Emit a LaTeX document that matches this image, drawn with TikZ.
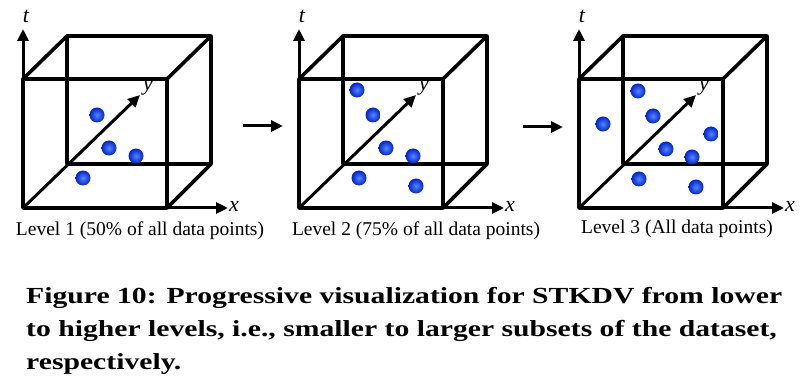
\documentclass[tikz,border=0pt]{standalone}
\usepackage{fontspec}
\setmainfont{Liberation Serif}
\newfontfamily\capfont[FakeStretch=1.29]{Liberation Serif}
\usetikzlibrary{arrows.meta}
\definecolor{dotin}{RGB}{80,135,255}
\definecolor{dotout}{RGB}{5,35,200}
\tikzset{
  edge/.style={line width=3.6pt, line cap=round, line join=round},
  axis/.style={line width=3pt, -{Triangle[length=12pt,width=11pt]}},
  flow/.style={line width=3pt, -{Triangle[length=12pt,width=11pt]}},
  axlabel/.style={font=\fontsize{22}{22}\selectfont\itshape, inner sep=0pt},
  levlabel/.style={font=\fontsize{19.5}{19.5}\selectfont, inner sep=0pt, anchor=base},
  caption/.style={font=\capfont\fontsize{23}{23}\selectfont\bfseries, inner sep=0pt, anchor=base west},
}
\newcommand{\dotball}[2]{\shade[inner color=dotin, outer color=dotout] (#1,#2) circle (7.5);}
\newcommand{\cubepanel}[2]{%
 \begin{scope}[shift={(#1,0)}]
  \coordinate (#2fbl) at (0,208); \coordinate (#2fbr) at (144,208);
  \coordinate (#2ftl) at (0,79);  \coordinate (#2ftr) at (144,79);
  \coordinate (#2bbl) at (44,164); \coordinate (#2bbr) at (188,164);
  \coordinate (#2btl) at (44,36);  \coordinate (#2btr) at (188,36);
  \coordinate (#2ttip) at (0,29);
  \coordinate (#2ytip) at (117,95);
  \coordinate (#2xtip) at (205,208);
  \draw[edge] (#2btl) -- (#2btr) -- (#2bbr) -- (#2bbl) -- cycle;
  \draw[edge] (#2fbl) -- (#2fbr) -- (#2ftr) -- (#2ftl) -- cycle;
  \draw[edge] (#2ftl) -- (#2btl) (#2ftr) -- (#2btr) (#2fbr) -- (#2bbr);
  \draw[axis] (#2fbl) -- (#2ttip);
  \draw[axis] (#2fbl) -- (#2ytip);
  \draw[axis] (#2fbr) -- (#2xtip);
  \node[axlabel] (#2t) at (3,16) {t};
  \node[axlabel] (#2y) at (125,88) {y};
  \node[axlabel] (#2x) at (211,206) {x};
 \end{scope}}
\begin{document}
\begin{tikzpicture}[x=1pt,y=-1pt]
\useasboundingbox (0,0) rectangle (811,387);
\cubepanel{23}{a}
\cubepanel{299}{b}
\cubepanel{579}{c}
% dots panel 1
\dotball{97}{115}\dotball{109}{148}\dotball{136}{156}\dotball{83}{178}
% dots panel 2
\dotball{357}{90}\dotball{373}{115}\dotball{386}{148}\dotball{413}{156}\dotball{359}{178}\dotball{416}{186}
% dots panel 3
\dotball{638}{91}\dotball{653}{116}\dotball{603}{124}\dotball{711}{134}\dotball{666}{149}\dotball{692}{157}\dotball{639}{179}\dotball{696}{187}
\node[levlabel] (la) at (140,236) {Level 1 (50\% of all data points)};
\node[levlabel] (lb) at (416,236) {Level 2 (75\% of all data points)};
\node[levlabel] (lc) at (677,234) {Level 3 (All data points)};
\coordinate (f1s) at (243,126); \coordinate (f1e) at (283,126);
\coordinate (f2s) at (523,127); \coordinate (f2e) at (563,127);
\draw[flow] (f1s) -- (f1e);
\draw[flow] (f2s) -- (f2e);
\node[caption] (cap1) at (26,304) {Figure 10: Progressive visualization for STKDV from lower};
\node[caption] (cap2) at (26,336) {to higher levels, i.e., smaller to larger subsets of the dataset,};
\node[caption] (cap3) at (26,369) {respectively.};
\end{tikzpicture}
\end{document}
